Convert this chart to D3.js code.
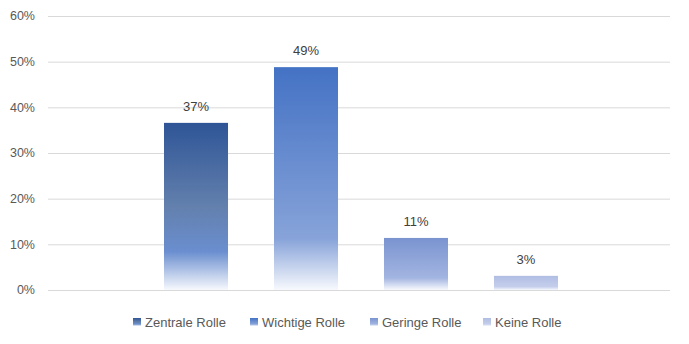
<!DOCTYPE html>
<html>
<head>
<meta charset="utf-8">
<script src="https://cdn.jsdelivr.net/npm/d3@7"></script>
<style>
  body { margin: 0; background: #fff; }
  svg { font-family: "Liberation Sans", "DejaVu Sans", sans-serif; }
</style>
</head>
<body>
<div id="chart"></div>
<script>
const series = ["Zentrale Rolle", "Wichtige Rolle", "Geringe Rolle", "Keine Rolle"];
const values = [0.366, 0.488, 0.114, 0.031];
const labels = ["37%", "49%", "11%", "3%"];
const yTicks = [0, 0.1, 0.2, 0.3, 0.4, 0.5, 0.6];
// top / middle colour of each gradient
const topColors = ["#2f5597", "#4472c4", "#7a94d0", "#b0bde3"];
const midColors = ["#6a8ecf", "#87a3d9", "#a3b5e1", "#c5cfec"];

const W = 689, H = 344;
const plot = {left: 48, right: 670, top: 16, bottom: 290};

const svg = d3.select("#chart").append("svg")
    .attr("width", W).attr("height", H);

const defs = svg.append("defs");
series.forEach((s, i) => {
    const g = defs.append("linearGradient")
        .attr("id", "grad" + i)
        .attr("x1", 0).attr("y1", 0).attr("x2", 0).attr("y2", 1);
    g.append("stop").attr("offset", "0%").attr("stop-color", topColors[i]);
    if (i === 0) g.append("stop").attr("offset", "50%").attr("stop-color", "#6380ad");
    g.append("stop").attr("offset", "77%").attr("stop-color", midColors[i]);
    g.append("stop").attr("offset", "100%").attr("stop-color", "#f7f9fd");
});

const y = d3.scaleLinear().domain([0, 0.6]).range([plot.bottom, plot.top]);
const x = d3.scaleBand().domain(series)
    .range([164, 558]).paddingInner(0.418).paddingOuter(0);

svg.append("g").selectAll("line")
    .data(yTicks).enter().append("line")
    .attr("x1", plot.left).attr("x2", plot.right)
    .attr("y1", d => y(d) + 0.5).attr("y2", d => y(d) + 0.5)
    .attr("stroke", "#d9d9d9").attr("stroke-width", 1);

svg.append("g").selectAll("text")
    .data(yTicks).enter().append("text")
    .attr("x", 35).attr("y", d => y(d))
    .attr("dy", "0.35em")
    .attr("text-anchor", "end")
    .attr("font-size", 12.5)
    .attr("fill", "#595959")
    .text(d => d3.format(".0%")(d));

const bars = svg.append("g").selectAll("g")
    .data(series).enter().append("g");

bars.append("rect")
    .attr("x", d => x(d))
    .attr("y", (d, i) => y(values[i]))
    .attr("width", x.bandwidth())
    .attr("height", (d, i) => y(0) - y(values[i]))
    .attr("fill", (d, i) => `url(#grad${i})`);

bars.append("text")
    .attr("x", d => x(d) + x.bandwidth() / 2)
    .attr("y", (d, i) => y(values[i]) - 12)
    .attr("text-anchor", "middle")
    .attr("font-size", 13)
    .attr("fill", "#404040")
    .text((d, i) => labels[i]);

const legendX = [133, 250, 370, 483];
const legend = svg.append("g").selectAll("g")
    .data(series).enter().append("g")
    .attr("transform", (d, i) => `translate(${legendX[i]}, 322)`);

legend.append("rect")
    .attr("x", 0).attr("y", -4)
    .attr("width", 8).attr("height", 8)
    .attr("fill", (d, i) => `url(#grad${i})`);

legend.append("text")
    .attr("x", 12).attr("dy", "0.35em")
    .attr("font-size", 13)
    .attr("fill", "#595959")
    .text(d => d);
</script>
</body>
</html>
